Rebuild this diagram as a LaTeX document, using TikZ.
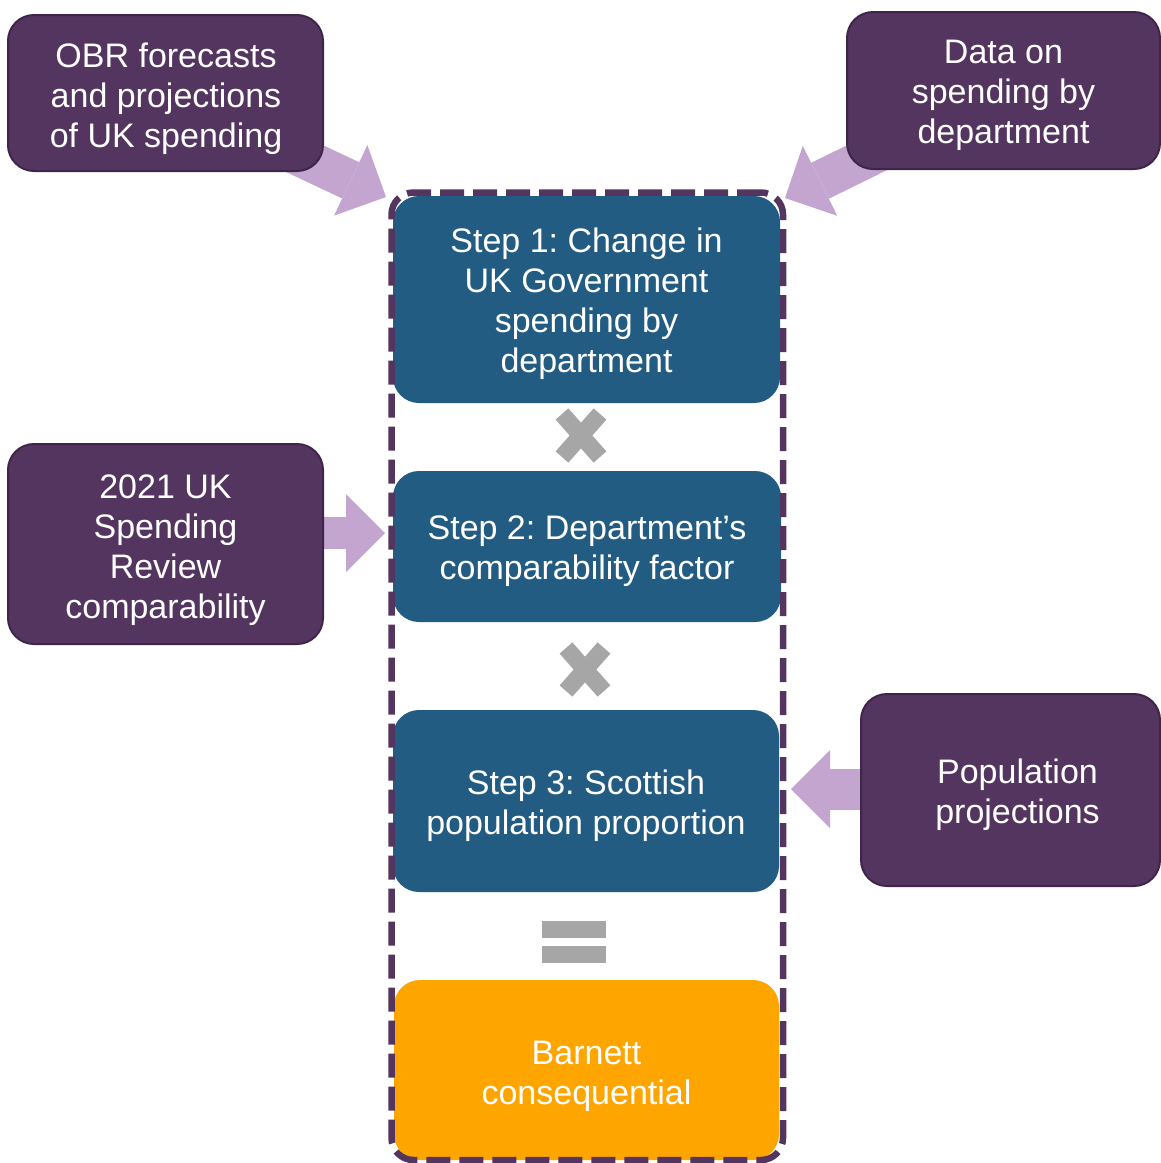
\documentclass[tikz,border=0pt]{standalone}
\usepackage{fontspec}
\setmainfont{Liberation Sans}
\usetikzlibrary{arrows.meta,backgrounds,shapes.misc}
\definecolor{boxpurple}{HTML}{53355F}
\definecolor{boxedge}{HTML}{3E2549}
\definecolor{stepblue}{HTML}{235C82}
\definecolor{barnettorange}{HTML}{FFA500}
\definecolor{lilac}{HTML}{C3A5CF}
\definecolor{opgray}{HTML}{A6A6A6}
\frenchspacing
\begin{document}
\begin{tikzpicture}[x=1pt,y=-1pt,
  boxtext/.style={text=white, align=center, inner sep=0pt,
    font=\fontsize{34}{40}\selectfont},
  srcbox/.style={draw=boxedge, line width=2pt, fill=boxpurple,
    rounded corners=26pt, inner sep=0pt},
  stepbox/.style={fill=stepblue, rounded corners=26pt, inner sep=0pt},
  resultbox/.style={fill=barnettorange, rounded corners=26pt, inner sep=0pt},
  frame/.style={draw=boxpurple, line width=6.5pt, dash pattern=on 24pt off 9pt,
    rounded corners=22pt, inner sep=0pt},
  mult/.style={cross out, draw=opgray, line width=17pt, inner sep=0pt,
    outer sep=0pt, minimum width=38pt, minimum height=43pt},
  flowarrow/.style={draw=lilac, line width=#1,
    -{Triangle[length=39pt,width=78pt,line width=0pt]}},
  flowarrow/.default=40pt]
\useasboundingbox (0,0) rectangle (1161,1163);

% source boxes
\node[srcbox, minimum width=315pt, minimum height=156pt,
  label={[boxtext,yshift=-5.5pt,xshift=0.5pt]center:{OBR forecasts\\and projections\\of UK spending}}]
  (obr) at (165.5,93) {};
\node[srcbox, minimum width=313pt, minimum height=157pt,
  label={[boxtext,yshift=-4.5pt]center:{Data on\\spending by\\department}}]
  (data) at (1003.5,90.5) {};
\node[srcbox, minimum width=315pt, minimum height=200pt,
  label={[boxtext,yshift=-6pt]center:{2021 UK\\Spending\\Review\\comparability}}]
  (rev) at (165.5,544) {};
\node[srcbox, minimum width=299pt, minimum height=192pt,
  label={[boxtext,yshift=-5pt,xshift=7pt]center:{Population\\projections}}]
  (pop) at (1010.5,790) {};

% steps
\node[stepbox, minimum width=387pt, minimum height=207pt,
  label={[boxtext,yshift=-4pt]center:{Step 1: Change in\\UK Government\\spending by\\department}}]
  (s1) at (586.5,299.5) {};
\node[stepbox, minimum width=388pt, minimum height=151pt,
  label={[boxtext,yshift=-4.5pt]center:{Step 2: Department's\\comparability factor}}]
  (s2) at (587,546.5) {};
\node[stepbox, minimum width=386pt, minimum height=182pt,
  label={[boxtext,yshift=-5pt]center:{Step 3: Scottish\\population proportion}}]
  (s3) at (586,801) {};
\node[resultbox, minimum width=385pt, minimum height=180pt,
  label={[boxtext,yshift=-6.5pt]center:{Barnett\\consequential}}]
  (bc) at (586.5,1070) {};

% dashed frame
\node[frame, minimum width=391.5pt, minimum height=967.5pt] (fr) at (587.25,676.25) {};

% operators
\node[mult] (x1) at (581,435.5) {};
\node[mult] (x2) at (585,669.5) {};
\fill[opgray] (542,921) rectangle (606,938);
\fill[opgray] (542,946) rectangle (606,963);

% arrow tips
\coordinate (tipA) at (386,197);
\coordinate (tipB) at (785,198);
\coordinate (tipC) at (385,533);
\coordinate (tipD) at (791,789);

\begin{scope}[on background layer]
  \fill[white] (0,0) rectangle (1161,1163);
  \draw[flowarrow] (obr.center) -- (tipA);
  \draw[flowarrow] (data.center) -- (tipB);
  \draw[flowarrow=32pt] (rev.center |- tipC) -- (tipC);
  \draw[flowarrow=41pt] (pop.center |- tipD) -- (tipD);
\end{scope}
\end{tikzpicture}
\end{document}
